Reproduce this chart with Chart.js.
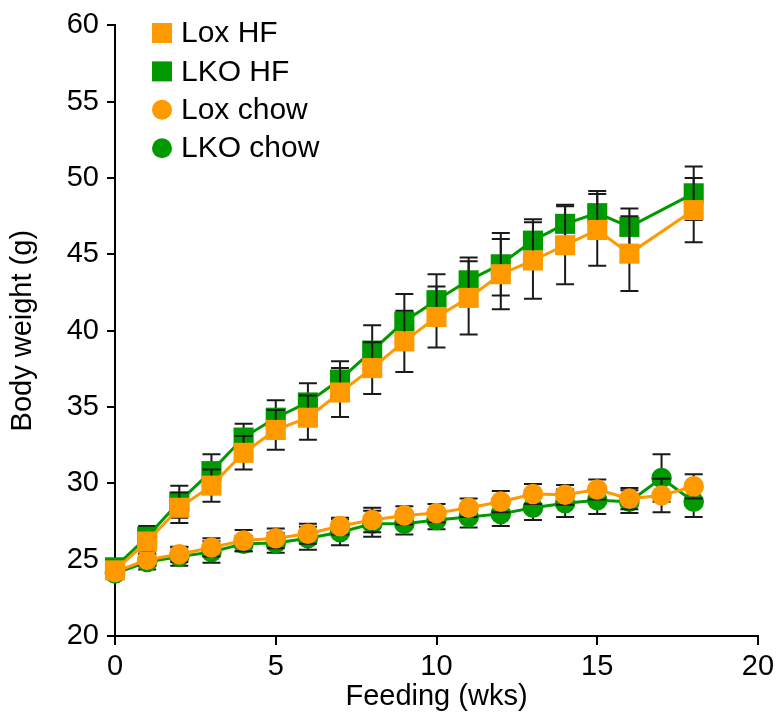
<!DOCTYPE html>
<html>
<head>
<meta charset="utf-8">
<script src="https://cdn.jsdelivr.net/npm/chart.js@4/dist/chart.umd.min.js"></script>
<style>
  html, body { margin: 0; padding: 0; background: #fff; }
  #wrap { width: 781px; height: 719px; }
</style>
</head>
<body>
<div id="wrap"><canvas id="c" width="781" height="719"></canvas></div>
<script>
// ---- data ----
const weeksHF   = [0, 1, 2, 3, 4, 5, 6, 7, 8, 9, 10, 11, 12, 13, 14, 15, 16, 18];
const weeksChow = [0, 1, 2, 3, 4, 5, 6, 7, 8, 9, 10, 11, 12, 13, 14, 15, 16, 17, 18];

const loxHF     = [24.3, 26.2, 28.4, 29.85, 32.0, 33.5, 34.3, 35.95, 37.55, 39.3, 40.9, 42.15, 43.7, 44.6, 45.6, 46.6, 45.05, 47.9];
const loxHFSem  = [0.3, 0.6, 1.0, 1.05, 1.1, 1.3, 1.45, 1.6, 1.7, 2.0, 2.0, 2.4, 2.3, 2.5, 2.55, 2.35, 2.45, 2.1];

const lkoHF     = [24.5, 26.5, 28.8, 30.8, 33.0, 34.3, 35.3, 36.8, 38.7, 40.6, 42.0, 43.3, 44.35, 45.9, 47.0, 47.7, 46.8, 49.0];
const lkoHFSem  = [0.3, 0.7, 1.05, 1.1, 0.9, 1.15, 1.25, 1.2, 1.65, 1.8, 1.7, 1.5, 2.05, 1.4, 1.25, 1.45, 1.2, 1.75];

const loxChow    = [24.2, 25.0, 25.35, 25.8, 26.25, 26.4, 26.7, 27.2, 27.6, 27.9, 28.05, 28.4, 28.8, 29.3, 29.25, 29.6, 29.0, 29.2, 29.8];
const loxChowSem = [0.3, 0.4, 0.5, 0.6, 0.7, 0.65, 0.65, 0.55, 0.8, 0.6, 0.6, 0.6, 0.7, 0.65, 0.65, 0.65, 0.7, 1.1, 0.8];

const lkoChow    = [24.1, 24.85, 25.2, 25.5, 26.05, 26.1, 26.4, 26.8, 27.35, 27.35, 27.6, 27.8, 28.0, 28.4, 28.7, 28.9, 28.8, 30.35, 28.8];
const lkoChowSem = [0.3, 0.5, 0.6, 0.7, 0.5, 0.65, 0.75, 0.85, 0.85, 0.7, 0.6, 0.7, 0.8, 0.8, 0.9, 0.9, 0.75, 1.55, 1.0];

const seriesLabels = ['Lox HF', 'LKO HF', 'Lox chow', 'LKO chow'];
const xTickValues = [0, 5, 10, 15, 20];
const yTickValues = [20, 25, 30, 35, 40, 45, 50, 55, 60];
const xTitle = 'Feeding (wks)';
const yTitle = 'Body weight (g)';

// ---- styling ----
const ORANGE = '#FF9900';
const GREEN = '#009900';
const FONT = '"Liberation Sans", Arial, Helvetica, sans-serif';

function pts(xs, ys) { return xs.map((x, i) => ({ x: x, y: ys[i] })); }

function ds(label, xs, ys, sem, color, style) {
  return {
    label: label,
    data: pts(xs, ys),
    sem: sem,
    borderColor: color,
    backgroundColor: color,
    borderWidth: 3,
    pointStyle: style,
    pointRadius: style === 'rect' ? 14.2 : 10.3,
    pointHoverRadius: style === 'rect' ? 14.2 : 10.3,
    pointBorderWidth: 0,
    pointBackgroundColor: color,
    tension: 0,
    clip: false
  };
}

const errorBars = {
  id: 'errorBars',
  beforeDatasetDraw(chart, args) {
    const d = chart.data.datasets[args.index];
    if (!d.sem) return;
    const ctx = chart.ctx;
    const xs = chart.scales.x, ys = chart.scales.y;
    ctx.save();
    ctx.strokeStyle = '#1a1a1a';
    ctx.lineWidth = 2;
    const cap = 9;
    d.data.forEach((p, i) => {
      const e = d.sem[i];
      const px = xs.getPixelForValue(p.x);
      const yTop = ys.getPixelForValue(p.y + e);
      const yBot = ys.getPixelForValue(p.y - e);
      ctx.beginPath();
      ctx.moveTo(px, yTop); ctx.lineTo(px, yBot);
      ctx.moveTo(px - cap, yTop); ctx.lineTo(px + cap, yTop);
      ctx.moveTo(px - cap, yBot); ctx.lineTo(px + cap, yBot);
      ctx.stroke();
    });
    ctx.restore();
  }
};

const insideLegend = {
  id: 'insideLegend',
  afterDraw(chart) {
    const ctx = chart.ctx;
    const x0 = 162, textX = 181, rowY0 = 33, rowStep = 38.4;
    ctx.save();
    ctx.font = '30px ' + FONT;
    ctx.textBaseline = 'middle';
    ctx.textAlign = 'left';
    chart.data.datasets.forEach((d, i) => {
      const y = rowY0 + i * rowStep;
      ctx.fillStyle = d.backgroundColor;
      if (d.pointStyle === 'rect') {
        ctx.fillRect(x0 - 10, y - 10, 20, 20);
      } else {
        ctx.beginPath();
        ctx.arc(x0, y, 10, 0, Math.PI * 2);
        ctx.fill();
      }
      ctx.fillStyle = '#000';
      ctx.fillText(d.label, textX, y + 1);
    });
    ctx.restore();
  }
};

new Chart(document.getElementById('c'), {
  type: 'line',
  data: {
    datasets: [
      ds(seriesLabels[0], weeksHF, loxHF, loxHFSem, ORANGE, 'rect'),
      ds(seriesLabels[1], weeksHF, lkoHF, lkoHFSem, GREEN, 'rect'),
      ds(seriesLabels[2], weeksChow, loxChow, loxChowSem, ORANGE, 'circle'),
      ds(seriesLabels[3], weeksChow, lkoChow, lkoChowSem, GREEN, 'circle')
    ]
  },
  options: {
    responsive: false,
    animation: false,
    devicePixelRatio: 1,
    events: [],
    layout: { padding: { top: 24, right: 23, left: 0, bottom: 0 } },
    plugins: { legend: { display: false }, tooltip: { enabled: false } },
    scales: {
      x: {
        type: 'linear',
        min: 0, max: 20,
        afterBuildTicks(s) { s.ticks = xTickValues.map(v => ({ value: v })); },
        afterFit(s) { s.height = 83; },
        grid: { drawOnChartArea: false, drawTicks: true, tickLength: 9, tickWidth: 2, tickColor: '#000', color: '#000', lineWidth: 2 },
        border: { display: true, color: '#000', width: 2 },
        ticks: { color: '#000', font: { family: FONT, size: 29 }, padding: 5, maxRotation: 0 },
        title: { display: true, text: xTitle, color: '#000', font: { family: FONT, size: 29 }, padding: { top: 0, bottom: 5 } }
      },
      y: {
        type: 'linear',
        min: 20, max: 60,
        afterBuildTicks(s) { s.ticks = yTickValues.map(v => ({ value: v })); },
        afterFit(s) { s.width = 115; },
        grid: { drawOnChartArea: false, drawTicks: true, tickLength: 8, tickWidth: 2, tickColor: '#000', color: '#000', lineWidth: 2 },
        border: { display: true, color: '#000', width: 2 },
        ticks: { color: '#000', font: { family: FONT, size: 29 }, padding: 8 },
        title: { display: true, text: yTitle, color: '#000', font: { family: FONT, size: 29 }, padding: { top: 6, bottom: 0 } }
      }
    }
  },
  plugins: [errorBars, insideLegend]
});
</script>
</body>
</html>
